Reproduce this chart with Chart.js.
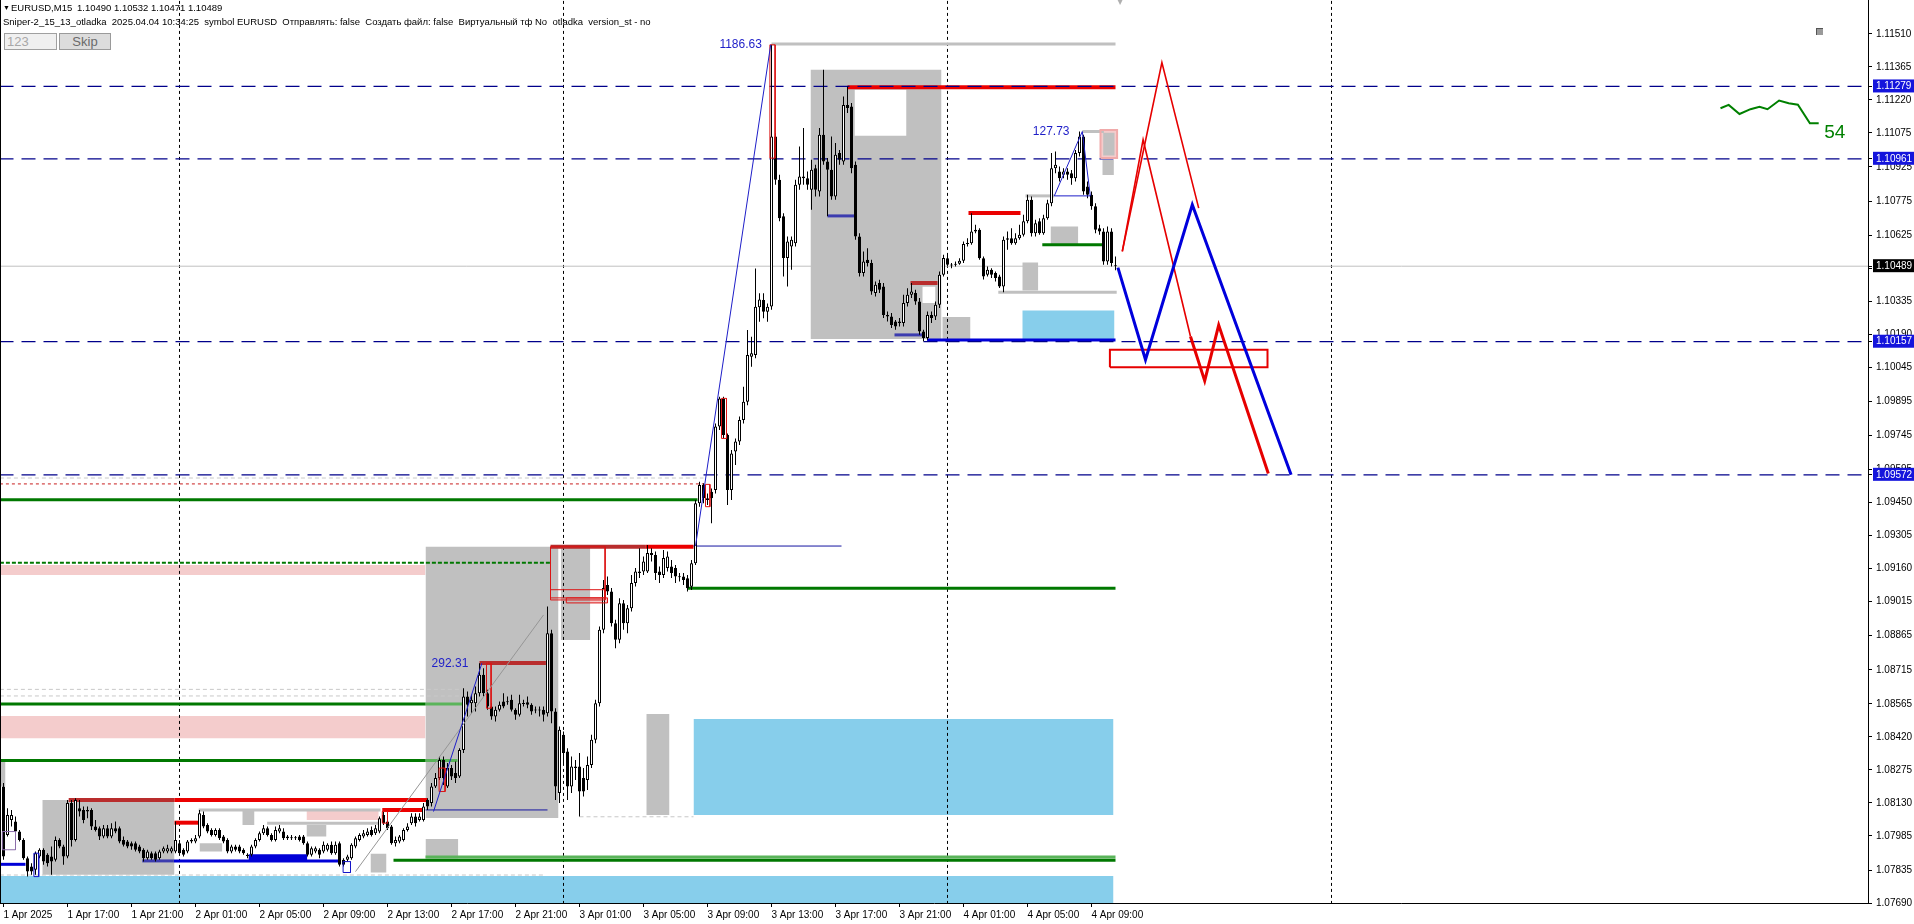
<!DOCTYPE html>
<html><head><meta charset="utf-8">
<script src="https://cdn.jsdelivr.net/npm/chart.js@4.4.1/dist/chart.umd.min.js"></script>
<style>
body{margin:0;background:#fff;overflow:hidden}
#wrap{position:relative;width:1914px;height:924px;background:#fff}
canvas{position:absolute;left:0;top:0}
.h{position:absolute;font:9.5px "Liberation Sans",Arial,sans-serif;color:#000;white-space:pre;line-height:11px}
#inp{position:absolute;left:4px;top:33px;width:49px;height:15px;border:1px solid #a0a0a0;background:#f0f0f0;color:#a8a8a8;font:13px "Liberation Sans",Arial,sans-serif;line-height:15px;padding-left:2px;box-sizing:content-box}
#btn{position:absolute;left:59px;top:33px;width:50px;height:15px;border:1px solid #9a9a9a;background:#dcdcdc;color:#6a6a6a;font:13px "Liberation Sans",Arial,sans-serif;line-height:15px;text-align:center}
#lb{position:absolute;left:0;top:0;width:1px;height:903px;background:#000}
#ico{position:absolute;left:1816px;top:28px;width:6px;height:6px;background:#9a9a9a;border-top:1px solid #555;border-left:1px solid #555}
#shift{position:absolute;left:1117px;top:-3px;font:8px "DejaVu Sans";color:#b0b0b0}
</style>
</head><body><div id="wrap">
<canvas id="c" width="1914" height="924"></canvas>
<div id="lb"></div>
<div class="h" style="left:3px;top:2px;font-size:7px">▼</div>
<div class="h" style="left:11px;top:2px">EURUSD,M15</div>
<div class="h" style="left:77px;top:2px">1.10490 1.10532 1.10471 1.10489</div>
<div class="h" style="left:3px;top:16px">Sniper-2_15_13_otladka  2025.04.04 10:34:25  symbol EURUSD  Отправлять: false  Создать файл: false  Виртуальный тф No  otladka  version_st - no</div>
<div id="inp">123</div>
<div id="btn">Skip</div>
<div id="ico"></div>
<div id="shift">▼</div>
</div>
<script>
// ---------- DATA ----------
const xTickLabels = ["1 Apr 2025","1 Apr 17:00","1 Apr 21:00","2 Apr 01:00","2 Apr 05:00","2 Apr 09:00","2 Apr 13:00","2 Apr 17:00","2 Apr 21:00","3 Apr 01:00","3 Apr 05:00","3 Apr 09:00","3 Apr 13:00","3 Apr 17:00","3 Apr 21:00","4 Apr 01:00","4 Apr 05:00","4 Apr 09:00"];
const barsPerLabel = 16;
const priceTicks = [1.11510,1.11365,1.11220,1.11075,1.10925,1.10775,1.10625,1.10480,1.10335,1.10190,1.10045,1.09895,1.09745,1.09595,1.09450,1.09305,1.09160,1.09015,1.08865,1.08715,1.08565,1.08420,1.08275,1.08130,1.07985,1.07835,1.07690];
const levelTags = [1.11279,1.10961,1.10157,1.09572];
const lastPrice = 1.10489;
const daySeparators = [44,140,236,332];

const open = [
1.08202,1.07989,1.08055,1.08048,1.08004,1.07967,1.07887,1.07850,1.07836,1.07894,
1.07924,1.07902,1.07894,1.07880,1.07967,1.07938,1.07894,1.08129,1.07967,1.08107,
1.08099,1.08099,1.08099,1.08026,1.08019,1.07982,1.08019,1.07982,1.08019,1.08019,
1.07967,1.07960,1.07953,1.07953,1.07938,1.07924,1.07887,1.07909,1.07909,1.07887,
1.07916,1.07916,1.07916,1.07916,1.07953,1.07924,1.07916,1.07960,1.07960,1.07982,
1.08077,1.08033,1.08011,1.07989,1.08011,1.07982,1.07967,1.07916,1.07938,1.07938,
1.07924,1.07902,1.07902,1.07938,1.07967,1.07997,1.08019,1.07989,1.07967,1.08004,
1.08004,1.07982,1.07975,1.07978,1.07982,1.07982,1.07953,1.07902,1.07916,1.07924,
1.07916,1.07924,1.07946,1.07909,1.07953,1.07880,1.07880,1.07887,1.07938,1.07967,
1.07982,1.07989,1.08011,1.07997,1.08004,1.08077,1.08048,1.08026,1.07953,1.07960,
1.07967,1.08011,1.08041,1.08070,1.08055,1.08055,1.08143,1.08129,1.08202,1.08239,
1.08319,1.08202,1.08283,1.08261,1.08246,1.08363,1.08598,1.08568,1.08568,1.08612,
1.08693,1.08612,1.08554,1.08510,1.08539,1.08576,1.08576,1.08583,1.08539,1.08517,
1.08568,1.08572,1.08561,1.08539,1.08536,1.08539,1.08524,1.08876,1.08532,1.08173,
1.08429,1.08356,1.08202,1.08290,1.08290,1.08239,1.08231,1.08297,1.08407,1.08568,
1.08891,1.09088,1.09059,1.08920,1.08847,1.09008,1.08920,1.08986,1.09096,1.09140,
1.09147,1.09147,1.09228,1.09220,1.09147,1.09132,1.09162,1.09169,1.09162,1.09125,
1.09125,1.09117,1.09080,1.09183,1.09447,1.09527,1.09469,1.09498,1.09505,1.09784,
1.09908,1.09747,1.09505,1.09674,1.09718,1.09813,1.09893,1.10091,1.10099,1.10308,
1.10340,1.10289,1.10312,1.11059,1.10869,1.10708,1.10525,1.10576,1.10590,1.10847,
1.10876,1.10876,1.10825,1.10920,1.10817,1.11067,1.10949,1.10913,1.10795,1.10986,
1.10949,1.11198,1.11191,1.10935,1.10620,1.10459,1.10517,1.10503,1.10371,1.10415,
1.10400,1.10275,1.10268,1.10246,1.10239,1.10239,1.10327,1.10363,1.10371,1.10334,
1.10202,1.10173,1.10275,1.10268,1.10319,1.10451,1.10524,1.10495,1.10495,1.10500,
1.10513,1.10587,1.10590,1.10642,1.10649,1.10524,1.10451,1.10473,1.10459,1.10444,
1.10400,1.10605,1.10612,1.10590,1.10612,1.10627,1.10686,1.10781,1.10634,1.10686,
1.10634,1.10700,1.10766,1.10920,1.10905,1.10891,1.10905,1.10898,1.10876,1.10986,
1.11059,1.10839,1.10803,1.10752,1.10656,1.10642,1.10510,1.10642,1.10490];
const high = [
1.08217,1.08107,1.08099,1.08070,1.08011,1.07975,1.07894,1.07865,1.07916,1.07931,
1.07931,1.07909,1.07938,1.07982,1.07975,1.07946,1.08143,1.08143,1.08150,1.08143,
1.08114,1.08114,1.08107,1.08055,1.08026,1.08033,1.08033,1.08041,1.08048,1.08026,
1.07982,1.07967,1.07960,1.07960,1.07946,1.07931,1.07924,1.07916,1.07916,1.07924,
1.07938,1.07946,1.07938,1.08048,1.07967,1.07931,1.07967,1.07975,1.07989,1.08099,
1.08092,1.08041,1.08019,1.08019,1.08019,1.07989,1.07975,1.07946,1.07946,1.07946,
1.07931,1.07909,1.07946,1.07975,1.08004,1.08033,1.08026,1.07997,1.08026,1.08033,
1.08019,1.07989,1.07989,1.07985,1.07989,1.07989,1.07960,1.07938,1.07938,1.07931,
1.07960,1.07953,1.07960,1.07960,1.07960,1.07887,1.07902,1.07953,1.07982,1.07997,
1.08011,1.08019,1.08026,1.08033,1.08070,1.08092,1.08055,1.08033,1.07982,1.07989,
1.08019,1.08041,1.08085,1.08085,1.08085,1.08129,1.08150,1.08217,1.08261,1.08334,
1.08334,1.08305,1.08297,1.08312,1.08370,1.08634,1.08620,1.08605,1.08642,1.08744,
1.08722,1.08627,1.08568,1.08554,1.08576,1.08612,1.08598,1.08605,1.08546,1.08605,
1.08583,1.08598,1.08568,1.08554,1.08554,1.08554,1.08993,1.08891,1.08546,1.08466,
1.08444,1.08370,1.08334,1.08319,1.08349,1.08283,1.08334,1.08429,1.08583,1.08905,
1.09110,1.09125,1.09074,1.08935,1.09030,1.09022,1.09000,1.09132,1.09162,1.09249,
1.09213,1.09264,1.09249,1.09235,1.09169,1.09242,1.09235,1.09198,1.09176,1.09140,
1.09140,1.09132,1.09198,1.09461,1.09542,1.09535,1.09490,1.09512,1.09798,1.09915,
1.09915,1.09754,1.09681,1.09732,1.09828,1.09959,1.10208,1.10179,1.10479,1.10370,
1.10370,1.10325,1.11462,1.11074,1.10891,1.10722,1.10620,1.10620,1.10869,1.11015,
1.11096,1.10905,1.10957,1.10935,1.11096,1.11352,1.10964,1.11059,1.11030,1.11000,
1.11235,1.11279,1.11206,1.10949,1.10634,1.10554,1.10568,1.10517,1.10422,1.10429,
1.10415,1.10290,1.10283,1.10253,1.10261,1.10363,1.10392,1.10415,1.10385,1.10349,
1.10210,1.10290,1.10290,1.10334,1.10466,1.10539,1.10539,1.10503,1.10510,1.10524,
1.10598,1.10612,1.10722,1.10671,1.10656,1.10532,1.10488,1.10480,1.10466,1.10451,
1.10620,1.10642,1.10656,1.10634,1.10671,1.10715,1.10803,1.10795,1.10693,1.10700,
1.10715,1.10781,1.10986,1.10993,1.10927,1.10920,1.10920,1.10912,1.11000,1.11081,
1.11067,1.10861,1.10817,1.10766,1.10671,1.10656,1.10663,1.10656,1.10532];
const low = [
1.07880,1.07982,1.08026,1.07997,1.07960,1.07880,1.07806,1.07814,1.07814,1.07887,
1.07858,1.07850,1.07814,1.07872,1.07931,1.07858,1.07887,1.07938,1.07960,1.08070,
1.08041,1.08063,1.08011,1.08004,1.07967,1.07975,1.07975,1.07975,1.07997,1.07953,
1.07938,1.07931,1.07924,1.07916,1.07909,1.07872,1.07880,1.07880,1.07872,1.07880,
1.07909,1.07909,1.07909,1.07909,1.07902,1.07894,1.07909,1.07953,1.07953,1.07975,
1.08019,1.07997,1.07982,1.07982,1.07967,1.07953,1.07909,1.07909,1.07916,1.07909,
1.07902,1.07887,1.07894,1.07931,1.07960,1.07989,1.07982,1.07960,1.07960,1.07997,
1.07967,1.07967,1.07967,1.07967,1.07960,1.07946,1.07894,1.07894,1.07909,1.07887,
1.07909,1.07916,1.07902,1.07902,1.07850,1.07850,1.07872,1.07880,1.07931,1.07960,
1.07975,1.07982,1.07982,1.07989,1.07997,1.08033,1.08011,1.07946,1.07938,1.07953,
1.07960,1.08004,1.08033,1.08026,1.08048,1.08048,1.08099,1.08114,1.08195,1.08231,
1.08209,1.08195,1.08231,1.08217,1.08239,1.08349,1.08510,1.08524,1.08532,1.08598,
1.08598,1.08539,1.08495,1.08488,1.08532,1.08546,1.08561,1.08532,1.08495,1.08510,
1.08554,1.08546,1.08517,1.08524,1.08510,1.08488,1.08510,1.08480,1.08143,1.08129,
1.08305,1.08143,1.08173,1.08231,1.08070,1.08158,1.08187,1.08283,1.08392,1.08554,
1.08876,1.09044,1.08905,1.08810,1.08832,1.08891,1.08876,1.08971,1.09081,1.09118,
1.09132,1.09140,1.09191,1.09110,1.09096,1.09118,1.09147,1.09118,1.09096,1.09103,
1.09088,1.09059,1.09066,1.09176,1.09432,1.09447,1.09439,1.09359,1.09490,1.09769,
1.09732,1.09439,1.09461,1.09615,1.09703,1.09798,1.09878,1.10047,1.10084,1.10245,
1.10260,1.10245,1.10297,1.10847,1.10686,1.10444,1.10400,1.10473,1.10576,1.10825,
1.10847,1.10825,1.10737,1.10795,1.10795,1.10935,1.10708,1.10781,1.10781,1.10935,
1.10935,1.11162,1.10898,1.10605,1.10444,1.10444,1.10488,1.10363,1.10356,1.10371,
1.10261,1.10246,1.10217,1.10210,1.10224,1.10224,1.10312,1.10349,1.10319,1.10188,
1.10159,1.10166,1.10239,1.10253,1.10305,1.10444,1.10488,1.10480,1.10488,1.10495,
1.10503,1.10576,1.10583,1.10634,1.10517,1.10430,1.10444,1.10437,1.10422,1.10393,
1.10374,1.10561,1.10583,1.10583,1.10605,1.10620,1.10678,1.10620,1.10620,1.10627,
1.10627,1.10693,1.10752,1.10898,1.10861,1.10876,1.10869,1.10847,1.10861,1.10971,
1.10803,1.10788,1.10737,1.10634,1.10627,1.10495,1.10495,1.10488,1.10471];
const close = [
1.07894,1.08077,1.08077,1.08004,1.07967,1.07887,1.07828,1.07828,1.07909,1.07924,
1.07872,1.07865,1.07872,1.07967,1.07938,1.07894,1.08129,1.07967,1.08143,1.08092,
1.08055,1.08092,1.08026,1.08011,1.07982,1.08019,1.07982,1.08019,1.08004,1.07960,
1.07946,1.07938,1.07938,1.07924,1.07916,1.07887,1.07916,1.07887,1.07880,1.07916,
1.07931,1.07931,1.07931,1.07967,1.07909,1.07902,1.07960,1.07967,1.07975,1.08085,
1.08026,1.08004,1.07989,1.08011,1.07975,1.07960,1.07916,1.07938,1.07924,1.07916,
1.07909,1.07897,1.07938,1.07967,1.07997,1.08019,1.07989,1.07967,1.08011,1.08019,
1.07975,1.07975,1.07978,1.07975,1.07967,1.07953,1.07902,1.07931,1.07931,1.07902,
1.07946,1.07946,1.07909,1.07946,1.07858,1.07858,1.07894,1.07946,1.07975,1.07989,
1.07997,1.08004,1.07989,1.08019,1.08063,1.08041,1.08019,1.07953,1.07967,1.07982,
1.08011,1.08026,1.08070,1.08041,1.08070,1.08114,1.08114,1.08202,1.08239,1.08319,
1.08239,1.08283,1.08246,1.08239,1.08363,1.08598,1.08561,1.08583,1.08612,1.08693,
1.08612,1.08554,1.08510,1.08539,1.08561,1.08554,1.08572,1.08539,1.08517,1.08568,
1.08565,1.08561,1.08532,1.08536,1.08539,1.08517,1.08876,1.08532,1.08202,1.08451,
1.08349,1.08202,1.08290,1.08283,1.08180,1.08180,1.08297,1.08407,1.08568,1.08891,
1.09074,1.09059,1.08920,1.08847,1.09008,1.08920,1.08986,1.09096,1.09147,1.09147,
1.09191,1.09228,1.09220,1.09140,1.09132,1.09206,1.09213,1.09140,1.09125,1.09122,
1.09110,1.09073,1.09183,1.09447,1.09527,1.09469,1.09461,1.09469,1.09784,1.09908,
1.09747,1.09505,1.09666,1.09718,1.09813,1.09893,1.10099,1.10106,1.10311,1.10343,
1.10289,1.10311,1.11059,1.10869,1.10700,1.10525,1.10598,1.10605,1.10847,1.10883,
1.10883,1.10847,1.10913,1.10825,1.11067,1.10949,1.10913,1.10795,1.10979,1.10957,
1.11198,1.11184,1.10920,1.10620,1.10459,1.10510,1.10503,1.10378,1.10407,1.10385,
1.10275,1.10268,1.10231,1.10224,1.10246,1.10327,1.10363,1.10378,1.10334,1.10202,
1.10173,1.10275,1.10261,1.10319,1.10451,1.10525,1.10495,1.10492,1.10500,1.10513,
1.10587,1.10590,1.10642,1.10649,1.10524,1.10444,1.10473,1.10451,1.10437,1.10400,
1.10605,1.10612,1.10590,1.10612,1.10627,1.10686,1.10781,1.10634,1.10678,1.10634,
1.10700,1.10766,1.10920,1.10935,1.10876,1.10905,1.10891,1.10876,1.10986,1.11059,
1.10817,1.10803,1.10752,1.10649,1.10642,1.10510,1.10642,1.10503,1.10489];

// zones: [barFrom, barTo, priceLow, priceHigh]
const skyZones = [[-0.9,277.5,1.07600,1.07809],[172.5,277.5,1.08077,1.08499],[254.7,277.75,1.10165,1.10294]];
const pinkZones = [[-0.9,105.5,1.09132,1.09176],[-0.9,105.5,1.08414,1.08512],[75.75,93.8,1.08055,1.08095],[274.25,278.4,1.10965,1.11088],[108.9,110.4,1.08180,1.08283],[140.7,151,1.09009,1.09031]];
const cyanZones = [[105.75,137,1.09132,1.09176],[105.75,113.75,1.08414,1.08512]];
const grayZones = [[-0.9,0.5,1.08202,1.08319],[9.7,42.75,1.07814,1.08143],[59.7,62.75,1.08033,1.08099],[49,54.7,1.07916,1.07953],[75.75,80.75,1.07982,1.08033],[91.75,95.75,1.07824,1.07906],[105.5,113.7,1.07887,1.07971],[105.5,138.75,1.08064,1.09256],[139.3,146.7,1.08846,1.09256],[160.7,166.5,1.08077,1.08521],[201.75,234.5,1.10169,1.11352],[234.7,241.75,1.10165,1.10266],[254.7,258.7,1.10382,1.10505],[261.75,268.7,1.10587,1.10663],[274.7,277.6,1.10890,1.10956],[274.9,277.8,1.10975,1.11075]];
const whiteZones = [[212.75,225.75,1.11062,1.11264],[229.7,233,1.10327,1.10399]];

// level segments: [barFrom, barTo, price]
const greenLevels = [[-0.9,173.5,1.09462],[-0.9,105.5,1.08565],[-0.9,105.5,1.08316],[171,278,1.09073],[97.5,278,1.07878],[259.7,274.7,1.10583]];
const lightGreenLevels = [[105.5,115,1.08565],[105.5,113.5,1.08316],[105.5,278,1.07892]];
const greenDashedLevels = [[-0.9,137,1.09186]];
const redLevels = [[42.75,106,1.08143],[42.75,48.8,1.08043],[94.7,104.7,1.08099],[160.6,172.5,1.09256],[211,278,1.11276],[241.25,254.25,1.10723]];
const darkRedLevels = [[16.3,42.75,1.08143],[119,135.6,1.08745],[136.75,160.6,1.09256],[226.75,233.5,1.10415]];
const blueLevels = [[-0.9,5.5,1.07860],[42.6,83.8,1.07875],[230.9,278,1.10165]];
const blueThickLevels = [[61.3,75.9,1.07891]];
const slateLevels = [[34.7,42.6,1.07875],[206,213,1.10710],[222.75,229.8,1.10187]];
const navyThinLevels = [[105.5,136,1.08099],[172.5,209.5,1.09259]];
const grayLevels = [[48.8,94.25,1.08099],[65.9,94.25,1.08041],[192,278,1.11466],[248.7,278.3,1.10375],[255.5,262.7,1.10798],[269.7,275.1,1.11081]];
const grayDashedLevels = [[-0.9,175,1.09558],[-0.9,114,1.08629],[-0.9,114,1.08600],[144,172.5,1.08069],[-0.9,135,1.07813]];
const redDottedLevels = [[-0.9,175,1.09532]];

// outlined boxes: [barFrom, barTo, priceLow, priceHigh]
const redFrames = [[136.75,150.4,1.09022,1.09256],[136.75,150.4,1.09031,1.09067],[140.7,151,1.09009,1.09031],[191.6,192.9,1.10964,1.11462],[179.5,180.75,1.09732,1.09908],[175.5,176.6,1.09432,1.09530],[120.75,121.9,1.08546,1.08744],[94.7,96,1.08041,1.08092],[108.9,110.4,1.08180,1.08283]];
const pinkFrames = [[274.25,278.4,1.10965,1.11088]];
const blueFrames = [[7.6,8.8,1.07806,1.07909],[84.9,86.75,1.07824,1.07872]];
const purpleFrames = [[-0.3,3,1.07924,1.08004]];
const forecastBox = [276.6,316,1.10045,1.10122];

// zigzags: lists of [bar, price]
const waveLines = [
 [[107.5,1.08092],[119.6,1.08744]],
 [[173,1.09259],[191.8,1.11462]],
 [[262.7,1.10798],[269.7,1.11081],[271.7,1.10798],[262.7,1.10798]]
];
const trendGray = [[88,1.07828],[135,1.08956]];
const forecastBlue = [[278.6,1.10483],[285.5,1.10078],[297.2,1.10759],[321.9,1.09572]];
const forecastRedA = [[279.7,1.10554],[284.9,1.11045],[296.75,1.10180]];
const forecastRedB = [[279.7,1.10554],[289.6,1.11384],[298.8,1.10744]];
const forecastRedThick = [[296.75,1.10180],[300.3,1.09985],[303.8,1.10230],[316.2,1.09578]];
const miniGreen = [[429.25,1.11183],[431.3,1.11198],[434,1.11158],[436.75,1.11179],[439,1.11190],[441,1.11179],[443.9,1.11217],[446.3,1.11205],[448.6,1.11199],[451.6,1.11117],[453.8,1.11117]];
const waveLabels = [{text:"1186.63",bar:189.6,price:1.11462},{text:"292.31",bar:116.2,price:1.08740},{text:"127.73",bar:266.5,price:1.11079}];
const counterLabel = {text:"54",bar:455.2,price:1.11075};

// ---------- BUILD ----------
const DS = [];
function path(pts, o){ DS.push(Object.assign({type:'line', data:pts.map(p=>({x:p[0],y:p[1]})), pointRadius:0, pointHoverRadius:0, fill:false, tension:0, borderCapStyle:'butt', borderJoinStyle:'miter'}, o)); }
function zone(z, color, order){ path([[z[0],z[3]],[z[1],z[3]]], {borderWidth:1, borderColor:'rgba(0,0,0,0)', backgroundColor:color, fill:{value:z[2]}, order}); }
function level(l, color, w, order, dash){ path([[l[0],l[2]],[l[1],l[2]]], {borderColor:color, borderWidth:w, order, borderDash:dash||[]}); }
function frame(z, color, w, order){ path([[z[0],z[2]],[z[0],z[3]],[z[1],z[3]],[z[1],z[2]],[z[0],z[2]]], {borderColor:color, borderWidth:w, order}); }

skyZones.forEach(z=>zone(z,'rgb(135,206,235)',100));
pinkZones.forEach(z=>zone(z,'rgb(244,204,204)',100));
cyanZones.forEach(z=>zone(z,'rgb(204,240,240)',100));
grayZones.forEach(z=>zone(z,'rgb(192,192,192)',99));
whiteZones.forEach(z=>zone(z,'#ffffff',98));

grayDashedLevels.forEach(l=>level(l,'rgb(200,200,200)',1,90,[4,3]));
redDottedLevels.forEach(l=>level(l,'rgb(200,30,30)',1,90,[3,3]));
daySeparators.forEach(b=>path([[b,1.13],[b,1.06]],{borderColor:'#000',borderWidth:1,borderDash:[3,3],order:88}));
path([[-1,lastPrice],[470,lastPrice]],{borderColor:'rgb(192,192,192)',borderWidth:1,order:87});

grayLevels.forEach(l=>level(l,'rgb(192,192,192)',3,70));
lightGreenLevels.forEach(l=>level(l,'rgb(90,180,90)',3,70));
greenLevels.forEach(l=>level(l,'rgb(0,120,0)',3,69));
greenDashedLevels.forEach(l=>level(l,'rgb(0,120,0)',2,69,[4,2]));
darkRedLevels.forEach(l=>level(l,'rgb(185,45,45)',4,68));
redLevels.forEach(l=>level(l,'rgb(235,0,0)',4,67));
slateLevels.forEach(l=>level(l,'rgb(60,60,175)',3,66));
blueLevels.forEach(l=>level(l,'rgb(0,0,215)',3,66));
blueThickLevels.forEach(l=>level(l,'rgb(0,0,215)',6,66));
navyThinLevels.forEach(l=>level(l,'rgb(20,20,160)',1,66));
levelTags.forEach(p=>path([[-1,p],[470,p]],{borderColor:'rgb(0,0,139)',borderWidth:1.2,borderDash:[14,8],order:60}));

const idx = open.map((_,i)=>i);
DS.push({type:'bar', data:idx.map(i=>({x:i,y:[low[i],high[i]]})), barThickness:1, backgroundColor:'#000', borderWidth:0, grouped:false, inflateAmount:0, order:41});
DS.push({type:'bar', data:idx.map(i=>({x:i,y:[open[i],close[i]]})), barThickness:3, backgroundColor:idx.map(i=>close[i]>=open[i]?'#ffffff':'#000000'), borderColor:'#000', borderWidth:1, borderSkipped:false, minBarLength:1, grouped:false, inflateAmount:0, order:40});

redFrames.forEach(z=>frame(z,'rgb(220,20,20)',1,30));
pinkFrames.forEach(z=>frame(z,'rgb(240,170,170)',2,30));
blueFrames.forEach(z=>frame(z,'rgb(20,20,200)',1,30));
purpleFrames.forEach(z=>frame(z,'rgb(140,110,170)',1,30));
frame(forecastBox,'rgb(230,0,0)',2,12);

path(trendGray,{borderColor:'rgb(150,150,150)',borderWidth:1,order:25});
waveLines.forEach(w=>path(w,{borderColor:'rgb(30,30,200)',borderWidth:1,order:20}));
path(forecastRedA,{borderColor:'rgb(230,0,0)',borderWidth:1.6,order:11});
path(forecastRedB,{borderColor:'rgb(230,0,0)',borderWidth:1.6,order:11});
path(forecastRedThick,{borderColor:'rgb(230,0,0)',borderWidth:3,order:10});
path(forecastBlue,{borderColor:'rgb(0,0,220)',borderWidth:3,order:9});
path(miniGreen,{borderColor:'rgb(0,128,0)',borderWidth:2,order:9});

const isTag = v => levelTags.includes(v) || v===lastPrice;

const textPlugin = {
  id:'waveText',
  afterDatasetsDraw(chart){
    const {ctx, scales:{x,y}} = chart;
    ctx.save();
    ctx.font = '12px "Liberation Sans", Arial, sans-serif';
    ctx.fillStyle = 'rgb(30,30,200)';
    ctx.textAlign = 'right'; ctx.textBaseline = 'middle';
    waveLabels.forEach(t=>ctx.fillText(t.text, x.getPixelForValue(t.bar), y.getPixelForValue(t.price)));
    ctx.font = '19px "Liberation Sans", Arial, sans-serif';
    ctx.fillStyle = 'rgb(0,128,0)'; ctx.textAlign = 'left';
    ctx.fillText(counterLabel.text, x.getPixelForValue(counterLabel.bar), y.getPixelForValue(counterLabel.price));
    ctx.restore();
  }
};

const FONT = '"Liberation Sans", Arial, sans-serif';
new Chart(document.getElementById('c'), {
  type:'line',
  data:{datasets:DS},
  plugins:[textPlugin],
  options:{
    responsive:false, animation:false, devicePixelRatio:1, events:[],
    layout:{padding:0},
    plugins:{legend:{display:false}, tooltip:{enabled:false}},
    scales:{
      x:{type:'linear', min:-0.875, max:466.125, offset:false,
         afterBuildTicks:s=>{ s.ticks = xTickLabels.map((_,k)=>({value:k*barsPerLabel})); },
         afterFit:s=>{ s.height = 21; s.paddingLeft = 0; s.paddingRight = 0; },
         ticks:{autoSkip:false, maxRotation:0, align:'start', padding:2, color:'#000', font:{family:FONT,size:10},
                callback:(v,i)=>xTickLabels[i]},
         grid:{display:true, drawOnChartArea:false, tickLength:4, color:'#000', offset:false},
         border:{display:true, color:'#000'}},
      y:{type:'linear', position:'right', min:1.07690, max:1.11659,
         afterBuildTicks:s=>{ s.ticks = priceTicks.concat(levelTags,[lastPrice]).map(v=>({value:v})); },
         afterFit:s=>{ s.width = 46; s.paddingTop = 0; s.paddingBottom = 0; },
         ticks:{autoSkip:false, padding:4, font:{family:FONT,size:10},
                color:c=> (c.tick && isTag(c.tick.value)) ? '#fff' : '#000',
                showLabelBackdrop:c=> !!(c.tick && isTag(c.tick.value)),
                backdropColor:c=> (c.tick && c.tick.value===lastPrice) ? '#000' : 'rgb(20,20,220)',
                backdropPadding:{top:1,bottom:0,left:3,right:6},
                callback:v=>Number(v).toFixed(5)},
         grid:{display:true, drawOnChartArea:false, tickLength:4, color:'#000'},
         border:{display:true, color:'#000'}}
    }
  }
});
</script>
</body></html>
